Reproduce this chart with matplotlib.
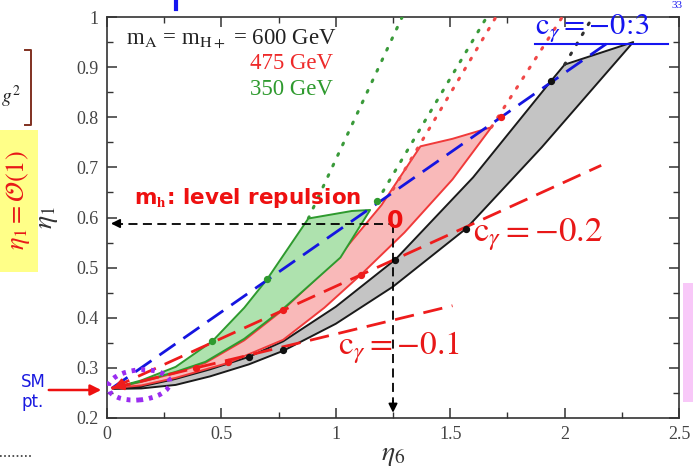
import matplotlib
matplotlib.use("Agg")
import matplotlib.pyplot as plt
from matplotlib.patches import Ellipse, Rectangle, Polygon, FancyArrowPatch
from matplotlib.lines import Line2D
import numpy as np

plt.rcParams['mathtext.fontset'] = 'stix'
plt.rcParams['font.family'] = ['Liberation Serif', 'DejaVu Sans']

# ---------------- data ----------------
# 600 GeV band (gray)
gray_lower_x = [0.03, 0.15, 0.3, 0.45, 0.62, 0.77, 1.0, 1.25, 1.57, 1.9, 2.3]
gray_lower_y = [0.258, 0.259, 0.266, 0.283, 0.307, 0.334, 0.388, 0.462, 0.578, 0.74, 0.95]
gray_upper_x = [0.03, 0.15, 0.3, 0.45, 0.62, 0.77, 1.0, 1.26, 1.6, 1.94, 2.0, 2.3]
gray_upper_y = [0.258, 0.263, 0.278, 0.297, 0.322, 0.353, 0.422, 0.516, 0.68, 0.872, 0.905, 0.95]
# 475 GeV band (red)
red_lower_x = [0.03, 0.15, 0.3, 0.53, 0.77, 0.95, 1.11, 1.3, 1.51, 1.68]
red_lower_y = [0.26, 0.265, 0.28, 0.31, 0.356, 0.42, 0.486, 0.57, 0.676, 0.78]
red_upper_x = [0.03, 0.15, 0.3, 0.43, 0.6, 0.77, 1.0, 1.2, 1.37, 1.51, 1.68]
red_upper_y = [0.26, 0.272, 0.29, 0.31, 0.355, 0.416, 0.515, 0.625, 0.742, 0.757, 0.78]
# 350 GeV band (green)
green_upper_x = [0.03, 0.15, 0.3, 0.46, 0.6, 0.70, 0.88, 1.07, 1.15]
green_upper_y = [0.26, 0.275, 0.302, 0.353, 0.42, 0.477, 0.598, 0.613, 0.615]
green_lower_x = [0.03, 0.15, 0.3, 0.43, 0.6, 0.77, 1.02, 1.15]
green_lower_y = [0.26, 0.273, 0.292, 0.312, 0.358, 0.418, 0.52, 0.615]

# dotted continuations (start, end)
green_dot1 = ([0.88, 1.29], [0.598, 1.0])
green_dot2 = ([1.18, 1.66], [0.632, 1.0])
red_dot1 = ([1.25, 1.70], [0.656, 1.0])
red_dot2 = ([1.68, 1.99], [0.78, 1.0])
black_dot1 = ([2.0, 2.11], [0.905, 0.99])

# c_gamma lines from SM point
sm_point = (0.02, 0.259)
c03_end = (2.2, 0.952)
c02_end = (2.16, 0.704)
c01_end = (1.51, 0.424)

# crossing markers
green_pts_x = [0.46, 0.70, 1.18]
green_pts_y = [0.353, 0.477, 0.632]
red_pts_x = [0.77, 1.11, 0.39, 0.53, 1.72]
red_pts_y = [0.416, 0.486, 0.30, 0.312, 0.80]
black_pts_x = [1.26, 1.57, 0.62, 0.77, 1.94]
black_pts_y = [0.516, 0.578, 0.322, 0.336, 0.872]

# highlighted point
mark_eta6 = 1.25
mark_eta1 = 0.588

x_ticks = [0, 0.5, 1, 1.5, 2, 2.5]
x_ticklabels = ['0', '0.5', '1', '1.5', '2', '2.5']
y_ticks = [0.2, 0.3, 0.4, 0.5, 0.6, 0.7, 0.8, 0.9, 1.0]
y_ticklabels = ['0.2', '0.3', '0.4', '0.5', '0.6', '0.7', '0.8', '0.9', '1']

# ---------------- figure ----------------
W, H = 693, 470
fig = plt.figure(figsize=(W / 100, H / 100), dpi=100)
ax = fig.add_axes([107 / W, 1 - 418 / H, (679 - 107) / W, (418 - 17) / H])
ax.set_xlim(0, 2.5)
ax.set_ylim(0.2, 1.0)

def fp(px, py):
    return (px / W, 1 - py / H)

def band(ux, uy, lx, ly, face, edge, z):
    pts = list(zip(ux, uy)) + list(zip(lx[::-1], ly[::-1]))
    ax.add_patch(Polygon(pts, closed=True, facecolor=face, edgecolor=edge, lw=1.4,
                         joinstyle='round', zorder=z))

band(gray_upper_x, gray_upper_y, gray_lower_x, gray_lower_y, '#c4c4c4', '#1a1a1a', 2)
band(red_upper_x, red_upper_y, red_lower_x, red_lower_y, '#f9b9b9', '#f03a3a', 3)
band(green_upper_x, green_upper_y, green_lower_x, green_lower_y, '#aee2ae', '#2e9a2e', 4)

for (xs, ys), c in [(green_dot1, '#3a9a3a'), (green_dot2, '#3a9a3a'),
                    (red_dot1, '#f04848'), (red_dot2, '#f04848'), (black_dot1, '#303030')]:
    ax.plot(xs, ys, linestyle=(0, (0.6, 3.2)), color=c, lw=2.2, dash_capstyle='round', zorder=3)

dash = (0, (7, 3.5))
ax.plot([sm_point[0], c03_end[0]], [sm_point[1], c03_end[1]], color='#1515e0', lw=2, linestyle=dash, zorder=6)
ax.plot([sm_point[0], c02_end[0]], [sm_point[1], c02_end[1]], color='#ee1c1c', lw=2, linestyle=dash, zorder=6)
ax.plot([sm_point[0], c01_end[0]], [sm_point[1], c01_end[1]], color='#ee1c1c', lw=2, linestyle=dash, zorder=6)

# arrowheads at SM point
for end, col in [(c02_end, '#ee1c1c'), (c01_end, '#ee1c1c')]:
    dx = end[0] - sm_point[0]; dy = end[1] - sm_point[1]
    n = np.hypot(dx, dy * 2.2)
    ax.annotate('', xy=sm_point, xytext=(sm_point[0] + 0.07 * dx / n, sm_point[1] + 0.07 * dy / n),
                arrowprops=dict(arrowstyle='-|>', color=col, lw=1.5, mutation_scale=14), zorder=7)

ax.scatter(green_pts_x, green_pts_y, s=18, color='#2e9a2e', zorder=8)
ax.scatter(red_pts_x, red_pts_y, s=18, color='#ee1c1c', zorder=8)
ax.scatter(black_pts_x, black_pts_y, s=18, color='#111111', zorder=8)

# black dashed guide arrows
ax.plot([0.03, mark_eta6], [mark_eta1, mark_eta1], color='k', lw=1.3, linestyle=(0, (5, 3)), zorder=9)
ax.plot([mark_eta6, mark_eta6], [mark_eta1, 0.215], color='k', lw=1.3, linestyle=(0, (5, 3)), zorder=9)
ax.annotate('', xy=(0.005, mark_eta1), xytext=(0.06, mark_eta1),
            arrowprops=dict(arrowstyle='-|>', color='k', lw=1.3, mutation_scale=13), zorder=9)
ax.annotate('', xy=(mark_eta6, 0.205), xytext=(mark_eta6, 0.24),
            arrowprops=dict(arrowstyle='-|>', color='k', lw=1.3, mutation_scale=13), zorder=9)
ax.text(mark_eta6 + 0.01, mark_eta1 + 0.006, '0', color='#ee1010', fontsize=17, fontweight='bold',
        family='DejaVu Sans', ha='center', va='center', zorder=10)

# SM ellipse
ax.add_patch(Ellipse((0.14, 0.266), 0.27, 0.06, angle=2, fill=False, edgecolor='#9a2cf0',
                     lw=3.5, linestyle=(0, (0.8, 1.2)), zorder=10))

# texts in plot
ax.text(0.085, 0.956, r'm$_\mathrm{A}$ = m$_\mathrm{H+}$ = 600 GeV', fontsize=16.5, color='#222222', va='center')
ax.text(0.625, 0.908, '475 GeV', fontsize=16.5, color='#ee2a2a', va='center')
ax.text(0.625, 0.856, '350 GeV', fontsize=16.5, color='#2e9a2e', va='center')
ax.text(0.12, 0.638, r'm$_\mathbf{h}$: level repulsion', fontsize=15.5, color='#ee1010', fontweight='bold',
        family='DejaVu Sans', va='center', zorder=11)
ax.text(1.6, 0.566, r'$\mathrm{c}_\gamma = -0.2$', fontsize=25, color='#e81818', va='center', zorder=11)
ax.text(1.01, 0.34, r'$\mathrm{c}_\gamma = -0.1$', fontsize=24, color='#e81818', va='center', zorder=11)
ax.text(1.87, 0.978, r'$\mathrm{c}_\gamma = -0\!:\!3$', fontsize=22, color='#1515f0', va='center',
        zorder=11, clip_on=False)
fig.add_artist(Line2D([535 / W, 668 / W], [1 - 44 / H, 1 - 44 / H], color='#1515f0', lw=1.5))

# axes styling
ax.set_xticks(x_ticks)
ax.set_xticklabels(x_ticklabels)
ax.set_yticks(y_ticks)
ax.set_yticklabels(y_ticklabels)
ax.set_xticks(np.arange(0.25, 2.5, 0.5), minor=True)
ax.set_yticks(np.arange(0.25, 1.0, 0.1), minor=True)
ax.tick_params(which='both', direction='in', top=True, right=True, color='#333333')
ax.tick_params(which='major', length=7, width=1.1, labelsize=13, labelcolor='#444444', pad=6)
ax.tick_params(which='minor', length=4, width=1.0)
for s in ax.spines.values():
    s.set_color('#333333'); s.set_linewidth(1.2)
ax.set_xlabel(r'$\eta_6$', fontsize=20, color='#333333', labelpad=0)
ax.set_ylabel(r'$\eta_1$', fontsize=20, color='#333333', labelpad=12)

# ---------------- slide decorations outside axes ----------------
fig.add_artist(Rectangle(fp(0, 272), 38 / W, 142 / H, facecolor='#ffff88', edgecolor='none'))
fig.text(*fp(18, 200), r'$\eta_1 = \mathcal{O}(1)$', rotation=90, color='#e81818', fontsize=19,
         ha='center', va='center')
fig.add_artist(Line2D([25 / W, 31 / W, 31 / W, 25 / W],
                      [1 - 50 / H, 1 - 50 / H, 1 - 125 / H, 1 - 125 / H], color='#803020', lw=1.4))
fig.text(*fp(1, 97), r'$g^2$', color='#222222', fontsize=14, ha='left', va='center')
fig.text(*fp(33, 392), 'SM\npt.', color='#1a1ae0', fontsize=12, family='DejaVu Sans',
         ha='center', va='center', linespacing=1.1)
fig.add_artist(FancyArrowPatch(fp(46, 390), fp(104, 390), transform=fig.transFigure,
                               arrowstyle='-|>', mutation_scale=16, color='#ee1010', lw=1.8))
fig.add_artist(Line2D([0, 33 / W], [1 - 456 / H, 1 - 456 / H], color='#333333', lw=1.2,
                      linestyle=(0, (1, 1.5))))
fig.add_artist(Rectangle(fp(683, 402), 10 / W, 119 / H, facecolor='#f8c8f8', edgecolor='none'))
fig.text(*fp(672, 5), '33', color='#1515f0', fontsize=8, ha='left', va='center')
fig.add_artist(Line2D([176 / W, 176 / W], [1, 1 - 9 / H], color='#1515f0', lw=3))

fig.savefig('out.png', dpi=100)
